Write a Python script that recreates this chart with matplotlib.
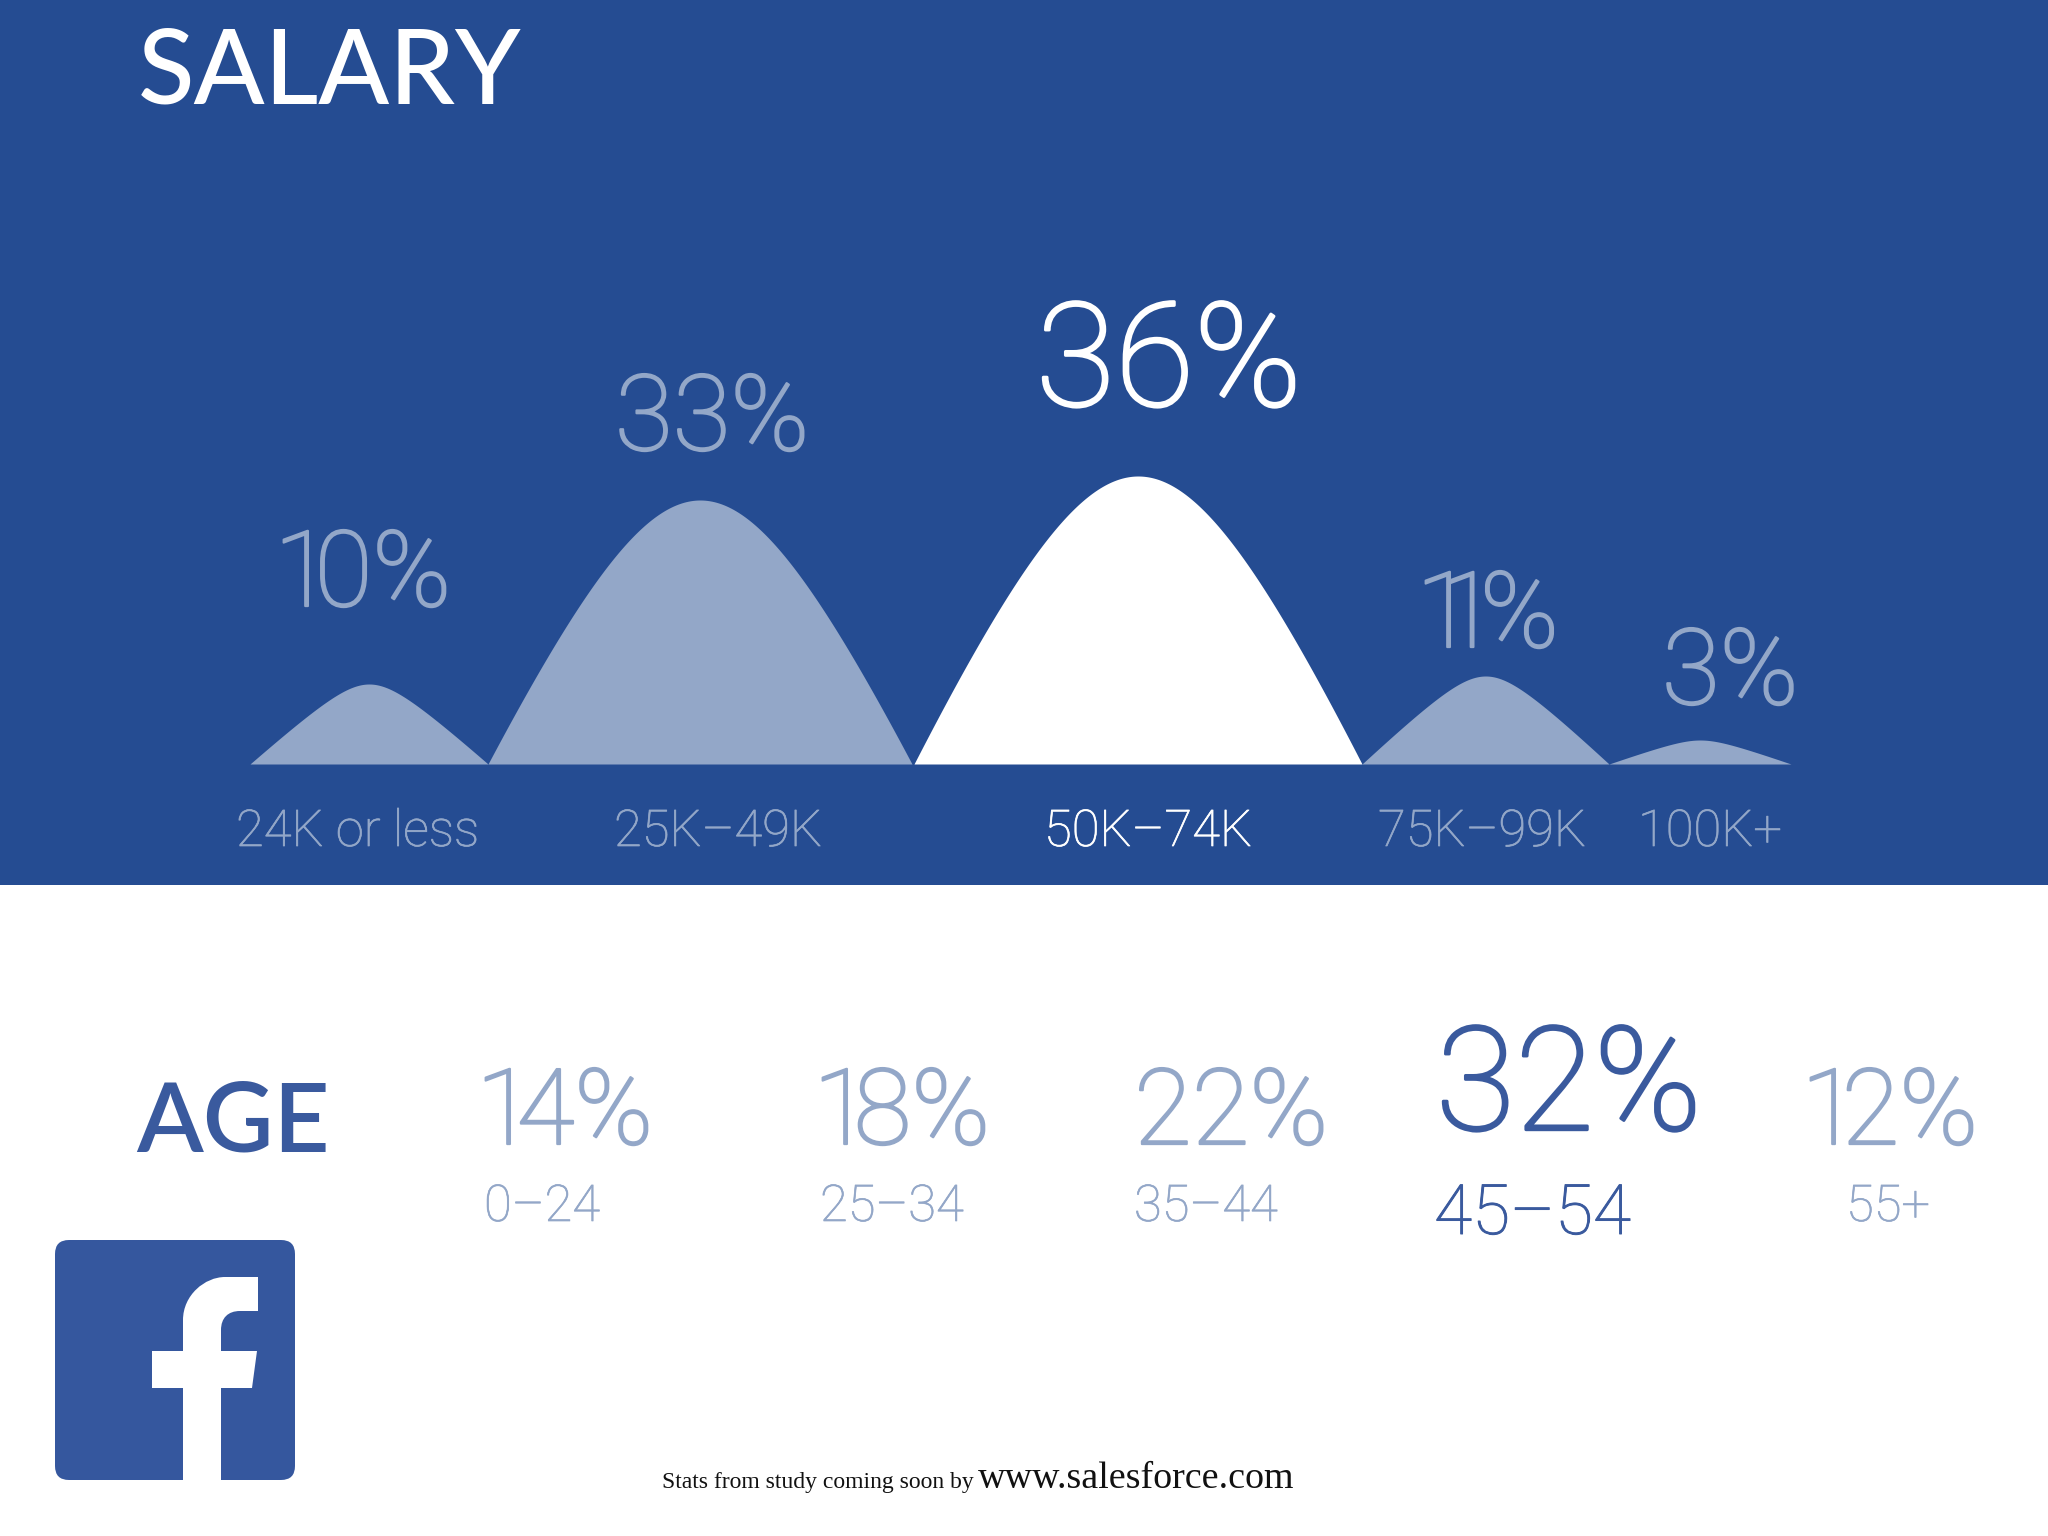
import numpy as np
import matplotlib
matplotlib.use('Agg')
import matplotlib.pyplot as plt
import matplotlib.patheffects as pe
from matplotlib.patches import FancyBboxPatch, PathPatch, Rectangle
from matplotlib.path import Path

# данные
salary_labels = ['24K or less', '25K–49K', '50K–74K', '75K–99K', '100K+']
salary_values = [10, 33, 36, 11, 3]
age_labels = ['0–24', '25–34', '35–44', '45–54', '55+']
age_values = [14, 18, 22, 32, 12]

# раскладка, пиксели картинки
hump_spans = [(250, 488), (488, 912), (914, 1362), (1362, 1609), (1609, 1791)]
salary_pct_pos = [(274, 607), (615, 451), (1036, 407), (1416, 648), (1662, 705)]
salary_lab_x = [236, 614, 1044, 1378, 1638]
age_pct_pos = [(476, 1145), (813, 1145), (1134, 1145), (1436, 1131), (1801, 1145)]
age_lab_pos = [(484, 1221), (820, 1221), (1134, 1221), (1434, 1234), (1846, 1221)]

BLUE = '#254c92'
PALE = '#93a7c8'
DARK = '#3a5a9e'
FB = '#35579e'
FONT = 'Lato'
THIN = 'Roboto'

plt.rcParams['mathtext.fontset'] = 'custom'
plt.rcParams['mathtext.rm'] = 'Roboto:light'
plt.rcParams['mathtext.default'] = 'rm'

fig = plt.figure(figsize=(20.48, 15.36), dpi=100, facecolor='white')

# общий слой в пикселях
bg = fig.add_axes([0, 0, 1, 1])
bg.set_xlim(0, 2048)
bg.set_ylim(1536, 0)
bg.axis('off')
bg.add_patch(Rectangle((0, 0), 2048, 885, color=BLUE, lw=0))

# горбы: ось y в процентах, 8 px на процент
base_y = 764
px_per_pct = 8.0
ax = fig.add_axes([0, 1 - base_y / 1536, 1, 400 / 1536])
ax.set_xlim(0, 2048)
ax.set_ylim(0, 400 / px_per_pct)
ax.axis('off')
ax.patch.set_alpha(0)

for i, ((x0, x1), val) in enumerate(zip(hump_spans, salary_values)):
    e = 0.6 if val > 12 else 0.3  # скругление вершины
    xs = np.linspace(x0, x1, 300)
    t = (xs - (x0 + x1) / 2) / ((x1 - x0) / 2)
    ys = val * (1 - (np.sqrt(t**2 + e**2) - e) / (np.sqrt(1 + e**2) - e))
    ax.fill_between(xs, 0, ys, color='white' if i == 2 else PALE, lw=0)


def put(x, y, s, size, color, weight='light', family=THIN, stroke=0):
    txt = bg.text(x, y, s, fontsize=size, color=color, family=family, weight=weight,
                  ha='left', va='baseline')
    if stroke:
        txt.set_path_effects([pe.withStroke(linewidth=stroke, foreground=color)])


def put_pct(x, y, val, size, color):
    # единица в оригинале узкая: поджимаем через отрицательный отступ
    digits = str(val).replace('1', r'1\!').replace(r'1\!1', r'1\!\!1')
    put(x, y, rf'${digits}\%$', size, color, stroke=size / 50)


put(138, 103, 'SALARY', 75, 'white', weight='medium', family=FONT)
put(136, 1152, 'AGE', 70, DARK, weight='semibold', family=FONT)

for i, val in enumerate(salary_values):
    x, y = salary_pct_pos[i]
    big = i == 2
    put_pct(x, y, val, 104 if big else 76, 'white' if big else PALE)
    put(salary_lab_x[i], 846, salary_labels[i], 36.5, 'white' if big else PALE, stroke=0.5)

for i, val in enumerate(age_values):
    x, y = age_pct_pos[i]
    big = i == 3
    put_pct(x, y, val, 104 if big else 76, DARK if big else PALE)
    lx, ly = age_lab_pos[i]
    put(lx, ly, age_labels[i], 50 if big else 36.5, DARK if big else PALE, stroke=0.7 if big else 0.5)

# логотип
bg.add_patch(FancyBboxPatch((65, 1250), 220, 220, boxstyle='round,pad=10,rounding_size=14',
                            fc=FB, ec='none'))
f_verts = [(183, 1480), (183, 1388), (152, 1388), (152, 1351), (183, 1351), (183, 1320),
           (183, 1295), (205, 1277), (225, 1277), (258, 1277), (258, 1311), (240, 1311),
           (228, 1311), (221, 1318), (221, 1330), (221, 1351), (257, 1351), (252, 1388),
           (221, 1388), (221, 1480), (183, 1480)]
f_codes = [Path.MOVETO, Path.LINETO, Path.LINETO, Path.LINETO, Path.LINETO, Path.LINETO,
           Path.CURVE4, Path.CURVE4, Path.CURVE4, Path.LINETO, Path.LINETO, Path.LINETO,
           Path.CURVE4, Path.CURVE4, Path.CURVE4, Path.LINETO, Path.LINETO, Path.LINETO,
           Path.LINETO, Path.LINETO, Path.CLOSEPOLY]
bg.add_patch(PathPatch(Path(f_verts, f_codes), fc='white', ec='none'))

# подпись внизу
bg.text(662, 1488, 'Stats from study coming soon by', fontsize=17, color='#111111',
        family='Liberation Serif', ha='left', va='baseline')
bg.text(978, 1488, 'www.salesforce.com', fontsize=27.4, color='#111111',
        family='Liberation Serif', ha='left', va='baseline')

fig.savefig('out.png', dpi=100)
